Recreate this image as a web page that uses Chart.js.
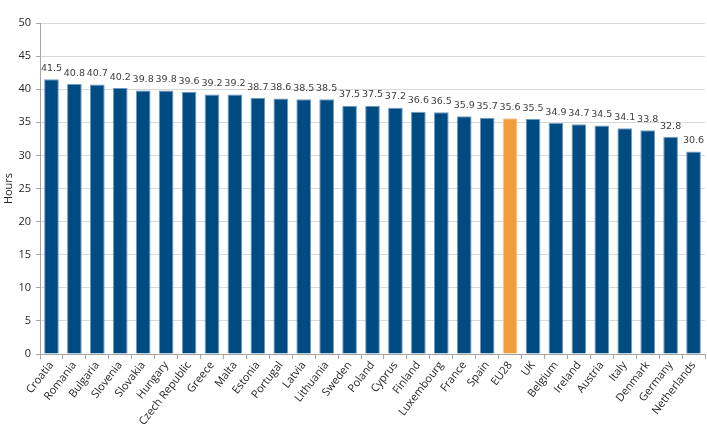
<!DOCTYPE html>
<html>
<head>
<meta charset="utf-8">
<script src="https://cdn.jsdelivr.net/npm/chart.js@4"></script>
<style>
    html, body { margin: 0; padding: 0; background: #fff; }
    #wrap { width: 707px; height: 428px; position: relative; }
</style>
</head>
<body>
<div id="wrap"><canvas id="hoursChart"></canvas></div>
<script>
const countries = ['Croatia', 'Romania', 'Bulgaria', 'Slovenia', 'Slovakia', 'Hungary', 'Czech Republic',
    'Greece', 'Malta', 'Estonia', 'Portugal', 'Latvia', 'Lithuania', 'Sweden', 'Poland', 'Cyprus',
    'Finland', 'Luxembourg', 'France', 'Spain', 'EU28', 'UK', 'Belgium', 'Ireland', 'Austria',
    'Italy', 'Denmark', 'Germany', 'Netherlands'];
const hours = [41.5, 40.8, 40.7, 40.2, 39.8, 39.8, 39.6, 39.2, 39.2, 38.7, 38.6, 38.5, 38.5, 37.5,
    37.5, 37.2, 36.6, 36.5, 35.9, 35.7, 35.6, 35.5, 34.9, 34.7, 34.5, 34.1, 33.8, 32.8, 30.6];
const highlight = 'EU28';

const blue = '#004b82';
const orange = '#f29d3c';

const barLabels = {
    id: 'barLabels',
    afterDatasetsDraw(chart) {
        const ctx = chart.ctx;
        const meta = chart.getDatasetMeta(0);
        ctx.save();
        ctx.font = '9.5px "DejaVu Sans", Verdana, sans-serif';
        ctx.fillStyle = '#404040';
        ctx.textAlign = 'center';
        ctx.textBaseline = 'bottom';
        meta.data.forEach(function (bar, i) {
            ctx.fillText(hours[i].toFixed(1), bar.x, bar.y - 6);
        });
        ctx.restore();
    }
};

const ctx = document.getElementById('hoursChart').getContext('2d');
new Chart(ctx, {
    type: 'bar',
    data: {
        labels: countries,
        datasets: [{
            data: hours,
            backgroundColor: countries.map(c => c === highlight ? orange : blue),
            borderColor: countries.map(c => c === highlight ? '#f7c48a' : '#6f9cc4'),
            borderWidth: { top: 1, left: 1, right: 1, bottom: 0 },
            categoryPercentage: 1,
            barPercentage: 0.64
        }]
    },
    options: {
        responsive: true,
        maintainAspectRatio: false,
        animation: false,
        layout: { padding: { top: 23, right: 2, left: 2, bottom: 0 } },
        plugins: {
            legend: { display: false },
            tooltip: { enabled: false }
        },
        scales: {
            x: {
                afterFit: function (scale) { scale.height = 74; },
                grid: {
                    drawOnChartArea: false,
                    drawTicks: true,
                    tickLength: 5,
                    color: '#a6a6a6'
                },
                border: { color: '#a6a6a6' },
                ticks: {
                    minRotation: 52,
                    maxRotation: 52,
                    autoSkip: false,
                    color: '#262626',
                    font: { family: '"Open Sans", sans-serif', size: 11 },
                    padding: 0
                }
            },
            y: {
                min: 0,
                max: 50,
                afterFit: function (scale) { scale.width = 38; },
                ticks: {
                    stepSize: 5,
                    color: '#262626',
                    font: { family: '"Open Sans", sans-serif', size: 11 },
                    padding: 5
                },
                grid: {
                    color: '#d9d9d9',
                    tickLength: 4,
                    tickColor: '#a6a6a6'
                },
                border: { color: '#a6a6a6' },
                title: {
                    display: true,
                    text: 'Hours',
                    color: '#262626',
                    font: { family: '"Open Sans", sans-serif', size: 11 },
                    padding: 0
                }
            }
        }
    },
    plugins: [barLabels]
});
</script>
</body>
</html>
